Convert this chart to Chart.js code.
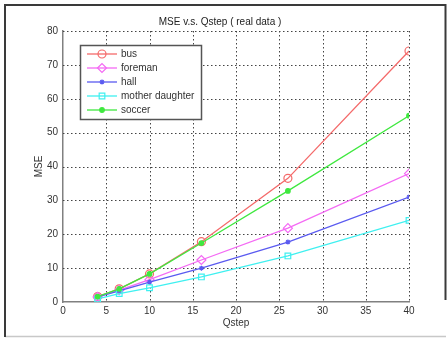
<!DOCTYPE html>
<html>
<head>
<meta charset="utf-8">
<script src="https://cdn.jsdelivr.net/npm/chart.js@4/dist/chart.umd.min.js"></script>
<style>
  html, body { margin: 0; padding: 0; background: #fff; }
  #wrap { width: 448px; height: 339px; position: relative; }
</style>
</head>
<body>
<div id="wrap"><canvas id="c" width="448" height="339"></canvas></div>
<script>
// Quantisation step sizes and the measured MSE for each test sequence
const qstep = [4, 6.5, 10, 16, 26, 40];
const busMse = [1.6, 3.9, 8.3, 17.8, 36.5, 74.1];
const foremanMse = [1.5, 3.5, 6.6, 12.4, 21.8, 37.9];
const hallMse = [1.5, 3.3, 5.9, 10.0, 17.7, 31.0];
const motherDaughterMse = [0.9, 2.5, 4.2, 7.4, 13.6, 24.1];
const soccerMse = [1.6, 3.9, 8.3, 17.4, 32.8, 55.0];

const seriesNames = ['bus', 'foreman', 'hall', 'mother daughter', 'soccer'];
const xTicks = [0, 5, 10, 15, 20, 25, 30, 35, 40];
const yTicks = [0, 10, 20, 30, 40, 50, 60, 70, 80];

const pts = vals => qstep.map((q, i) => ({ x: q, y: vals[i] }));

const styles = [
  { color: '#f46a6a', point: 'circle', r: 4, fill: false },
  { color: '#f46af4', point: 'rectRot', r: 4.5, fill: false },
  { color: '#5a5af0', point: 'star', r: 2.5, fill: true },
  { color: '#3ff0f0', point: 'rect', r: 4, fill: false },
  { color: '#3fe83f', point: 'circle', r: 2.3, fill: true }
];
const values = [busMse, foremanMse, hallMse, motherDaughterMse, soccerMse];

const datasets = seriesNames.map((name, i) => ({
  label: name,
  data: pts(values[i]),
  showLine: true,
  borderColor: styles[i].color,
  backgroundColor: styles[i].fill ? styles[i].color : 'rgba(0,0,0,0)',
  pointBorderColor: styles[i].color,
  pointBackgroundColor: styles[i].fill ? styles[i].color : 'rgba(0,0,0,0)',
  pointStyle: styles[i].point,
  pointRadius: styles[i].r,
  pointBorderWidth: 1.2,
  borderWidth: 1.3,
  tension: 0,
  order: seriesNames.length - i
}));

// Page frame behind the figure
const framePlugin = {
  id: 'frame',
  beforeDraw(chart) {
    const ctx = chart.ctx;
    ctx.save();
    ctx.fillStyle = '#fff';
    ctx.fillRect(0, 0, chart.width, chart.height);
    ctx.strokeStyle = '#c8c8c8';
    ctx.lineWidth = 1.5;
    ctx.beginPath();
    ctx.moveTo(5, 336.5); ctx.lineTo(446, 336.5);
    ctx.stroke();
    ctx.strokeStyle = '#3a3a3a';
    ctx.lineWidth = 2;
    ctx.beginPath();
    ctx.moveTo(5, 337); ctx.lineTo(5, 5); ctx.lineTo(445.5, 5); ctx.lineTo(445.5, 300);
    ctx.stroke();
    ctx.restore();
  }
};

// Dotted grid over the plot area, placed on the scales' own tick pixels
const dottedGrid = {
  id: 'dottedGrid',
  beforeDatasetsDraw(chart) {
    const { ctx, chartArea: a, scales: { x, y } } = chart;
    ctx.save();
    ctx.strokeStyle = '#444';
    ctx.lineWidth = 1;
    ctx.setLineDash([1.5, 2.5]);
    ctx.beginPath();
    xTicks.slice(1).forEach(v => {
      const px = Math.round(x.getPixelForValue(v)) + 0.5;
      ctx.moveTo(px, a.top); ctx.lineTo(px, a.bottom);
    });
    yTicks.slice(1).forEach(v => {
      const py = Math.round(y.getPixelForValue(v)) + 0.5;
      ctx.moveTo(a.left, py); ctx.lineTo(a.right, py);
    });
    ctx.stroke();
    ctx.restore();
  }
};

// Boxed legend in the upper-left corner of the plot area
const boxLegend = {
  id: 'boxLegend',
  afterDatasetsDraw(chart) {
    const ctx = chart.ctx;
    const x0 = 80.5, y0 = 45.5, w = 121, h = 74, rowH = 14;
    ctx.save();
    ctx.setLineDash([]);
    ctx.fillStyle = '#fff';
    ctx.fillRect(x0, y0, w, h);
    ctx.strokeStyle = '#555';
    ctx.lineWidth = 1.5;
    ctx.strokeRect(x0, y0, w, h);
    ctx.font = '10px "Liberation Sans", Arial, sans-serif';
    ctx.textBaseline = 'middle';
    chart.data.datasets.forEach((ds, i) => {
      const y = 54 + i * rowH;
      ctx.strokeStyle = ds.borderColor;
      ctx.lineWidth = 1.3;
      ctx.beginPath();
      ctx.moveTo(87, y); ctx.lineTo(117, y);
      ctx.stroke();
      ctx.fillStyle = ds.pointBackgroundColor;
      ctx.strokeStyle = ds.pointBorderColor;
      ctx.lineWidth = 1.2;
      Chart.helpers.drawPoint(ctx, {
        pointStyle: ds.pointStyle,
        radius: ds.pointRadius,
        borderWidth: 1.2,
        rotation: 0
      }, 102, y);
      ctx.fillStyle = '#333';
      ctx.fillText(ds.label, 121, y + 0.5);
    });
    ctx.restore();
  }
};

const tickFont = { family: '"Liberation Sans", Arial, sans-serif', size: 10 };
// Axis lines only; the dotted grid is drawn by the plugin above
const axisGrid = { display: true, drawOnChartArea: false, drawTicks: false };

new Chart(document.getElementById('c'), {
  type: 'scatter',
  data: { datasets },
  options: {
    responsive: false,
    animation: false,
    devicePixelRatio: 1,
    layout: { padding: { left: 31, right: 39, top: 10, bottom: 10 } },
    plugins: {
      legend: { display: false },
      tooltip: { enabled: false },
      title: {
        display: true,
        text: 'MSE v.s. Qstep ( real data )',
        color: '#222',
        font: { family: '"Liberation Sans", Arial, sans-serif', size: 10, weight: 'normal' },
        padding: { top: 6, bottom: 3 }
      }
    },
    scales: {
      x: {
        type: 'linear',
        min: 0, max: 40,
        afterBuildTicks: s => { s.ticks = xTicks.map(v => ({ value: v })); },
        afterFit: s => { s.height = 27; },
        ticks: { color: '#333', font: tickFont, padding: 3, maxRotation: 0 },
        grid: axisGrid,
        border: { display: true, color: '#808080', width: 1.5 },
        title: { display: true, text: 'Qstep', color: '#333', font: tickFont, padding: 0 }
      },
      y: {
        type: 'linear',
        min: 0, max: 80,
        afterBuildTicks: s => { s.ticks = yTicks.map(v => ({ value: v })); },
        afterFit: s => { s.width = 32; },
        ticks: { color: '#333', font: tickFont, padding: 5 },
        grid: axisGrid,
        border: { display: true, color: '#808080', width: 1.5 },
        title: { display: true, text: 'MSE', color: '#333', font: tickFont, padding: { top: 2, bottom: 0 } }
      }
    }
  },
  plugins: [framePlugin, dottedGrid, boxLegend]
});
</script>
</body>
</html>
